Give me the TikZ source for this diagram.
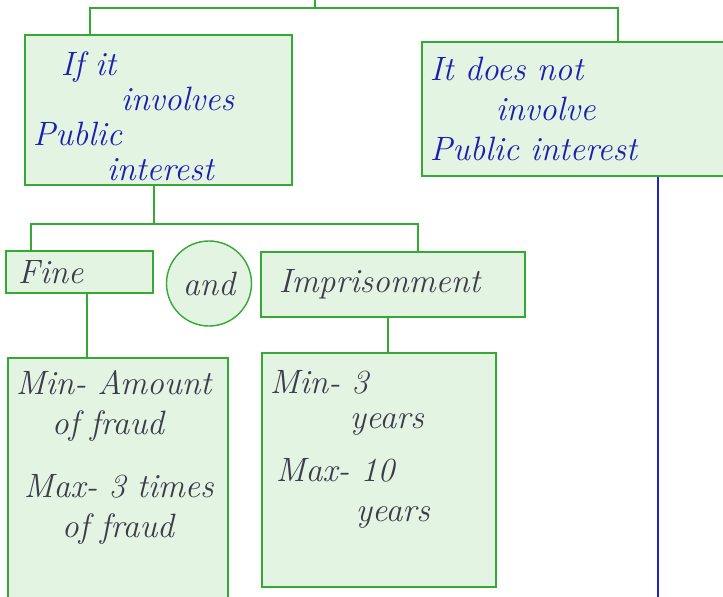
\documentclass[tikz,border=0pt]{standalone}
\usepackage{fontspec}
\definecolor{boxgreen}{RGB}{52,170,52}
\definecolor{boxfill}{RGB}{227,244,227}
\definecolor{inkblue}{RGB}{30,30,175}
\definecolor{inkgray}{RGB}{60,60,75}
\definecolor{lineblue}{RGB}{35,35,205}
\usetikzlibrary{calc}

\begin{document}
\begin{tikzpicture}[
  x=0.025cm, y=-0.025cm,
  box/.style={draw=boxgreen, line width=1pt, fill=boxfill, align=left, inner xsep=0.2cm, inner ysep=0.1cm, font=\fontsize{24}{25}\selectfont\itshape},
  bluebox/.style={box, text=inkblue},
  graybox/.style={box, text=inkgray},
  link/.style={draw=boxgreen, line width=1pt},
  bluelink/.style={draw=lineblue, line width=1pt}
]
\useasboundingbox (0,0) rectangle (723,597);
\node[bluebox, text width=6.275cm, minimum height=3.65cm] (pub) at (158.5,110) {\rule{0pt}{26pt}\hspace{0.7cm}If it\\\hspace{2.2cm}involves\\Public\\\hspace{1.85cm}interest};
\node[bluebox, text width=7.15cm, minimum height=3.35cm] (nopub) at (573,109) {It does not\\[3.5pt]\hspace{1.65cm}involve\\[3.5pt]Public interest};
\node[graybox, text width=3.275cm, minimum height=1.05cm] (fine) at (79.5,272) {\hspace{0.1cm}Fine};
\node[graybox, circle, align=center, inner sep=0pt, minimum size=2.125cm] (andc) at (209,283.5) {and};
\node[graybox, text width=6.2cm, minimum height=1.625cm] (jail) at (393,284.5) {\hspace{0.25cm}Imprisonment};
\node[graybox, text width=5.1cm, minimum height=6.3cm] (finedet) at (118,484) {Min- Amount\\[3.5pt]\hspace{0.9cm}of fraud\\[0.7cm]\hspace{0.2cm}Max- 3 times\\[3.5pt]\hspace{1.15cm}of fraud\rule[-1.5cm]{0pt}{1cm}};
\node[graybox, text width=5.45cm, minimum height=5.85cm] (jaildet) at (379,470) {Min- 3\\\hspace{2cm}years\\[0.45cm]\hspace{0.15cm}Max- 10\\[3.5pt]\hspace{2.15cm}years\rule[-1.2cm]{0pt}{1cm}};
% connectors
\coordinate (root) at (315,0);
\coordinate (lbar) at (90,8);
\coordinate (rbar) at (618,8);
\coordinate (split) at (154,224);
\coordinate (sl) at (31,224);
\coordinate (sr) at (418,224);
\coordinate (fx) at (87,0);
\coordinate (jx) at (388,0);
\coordinate (tail) at (658,597);
\draw[link] (root) -- (root |- lbar);
\draw[link] (pub.north -| lbar) -- (lbar) -- (rbar) -- (nopub.north -| rbar);
\draw[link] (pub.south -| split) -- (split);
\draw[link] (fine.north -| sl) -- (sl) -- (sr) -- (jail.north -| sr);
\draw[link] (fine.south -| fx) -- (finedet.north -| fx);
\draw[link] (jail.south -| jx) -- (jaildet.north -| jx);
\draw[bluelink] (nopub.south -| tail) -- (tail);
\end{tikzpicture}
\end{document}
